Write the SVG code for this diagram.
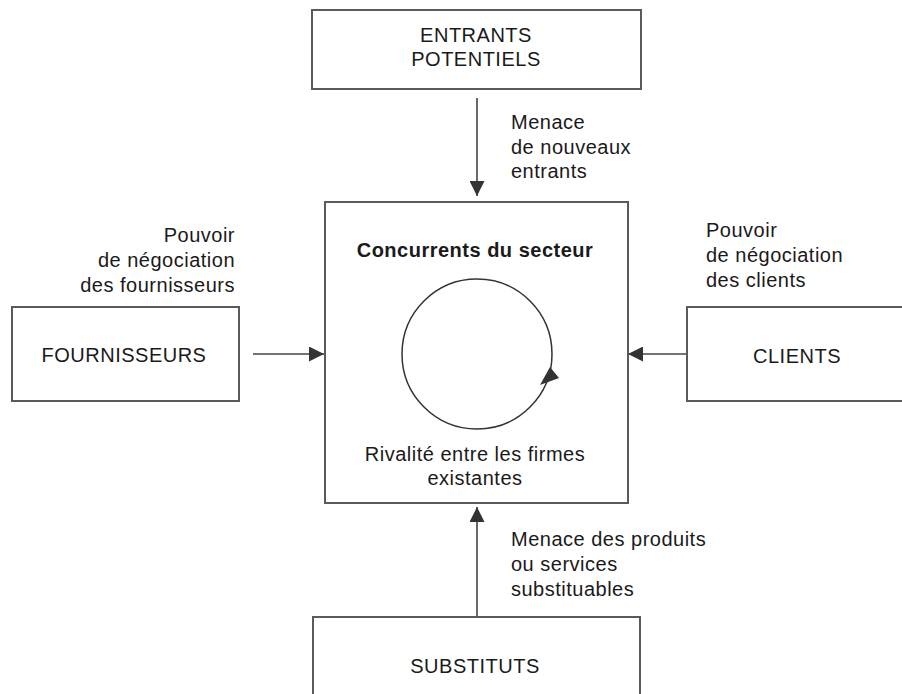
<svg xmlns="http://www.w3.org/2000/svg" width="902" height="694" viewBox="0 0 902 694">
<defs>
<style>
.box{fill:#fff;stroke:#5a5a5a;stroke-width:2}
.t{font-family:"Liberation Sans",Arial,sans-serif;font-size:20px;fill:#1a1a1a;letter-spacing:0.5px}
.c{text-anchor:middle}
.r{text-anchor:end}
.b{font-weight:bold}
.conn{stroke:#444;stroke-width:1.6;fill:none}
</style>
<marker id="ah" markerUnits="userSpaceOnUse" markerWidth="16" markerHeight="15" refX="15" refY="7.5" orient="auto">
<path d="M0,0 L15,7.5 L0,15 z" fill="#333"/>
</marker>
</defs>
<rect width="902" height="694" fill="#fff"/>
<g id="connectors">
<line class="conn" x1="477" y1="98" x2="477" y2="196" marker-end="url(#ah)"/>
<line class="conn" x1="477" y1="617" x2="477" y2="507" marker-end="url(#ah)"/>
<line class="conn" x1="253" y1="354" x2="324" y2="354" marker-end="url(#ah)"/>
<line class="conn" x1="687" y1="354" x2="628" y2="354" marker-end="url(#ah)"/>
</g>
<g id="entrants">
<rect class="box" x="312" y="10" width="329" height="79"/>
<text class="t c" x="476" y="42">ENTRANTS</text>
<text class="t c" x="476" y="66">POTENTIELS</text>
</g>
<g id="concurrents">
<rect class="box" x="325" y="202" width="303" height="301"/>
<text class="t c b" x="475" y="257">Concurrents du secteur</text>
<circle cx="477" cy="354" r="75" fill="none" stroke="#333" stroke-width="1.5"/>
<polygon points="540,385 550,367 559,378" fill="#333"/>
<text class="t c" x="475" y="461">Rivalité entre les firmes</text>
<text class="t c" x="475" y="485">existantes</text>
</g>
<g id="fournisseurs">
<rect class="box" x="12" y="307" width="227" height="94"/>
<text class="t c" x="124" y="362">FOURNISSEURS</text>
</g>
<g id="clients">
<rect class="box" x="687" y="307" width="222" height="94"/>
<text class="t c" x="797" y="363">CLIENTS</text>
</g>
<g id="substituts">
<rect class="box" x="313" y="617" width="327" height="90"/>
<text class="t c" x="475" y="673">SUBSTITUTS</text>
</g>
<g id="labels">
<text class="t" x="511" y="129">Menace</text>
<text class="t" x="511" y="154">de nouveaux</text>
<text class="t" x="511" y="178">entrants</text>
<text class="t r" x="235" y="242">Pouvoir</text>
<text class="t r" x="235" y="267">de négociation</text>
<text class="t r" x="235" y="292">des fournisseurs</text>
<text class="t" x="706" y="237">Pouvoir</text>
<text class="t" x="706" y="262">de négociation</text>
<text class="t" x="706" y="287">des clients</text>
<text class="t" x="511" y="546">Menace des produits</text>
<text class="t" x="511" y="571">ou services</text>
<text class="t" x="511" y="596">substituables</text>
</g>
</svg>
